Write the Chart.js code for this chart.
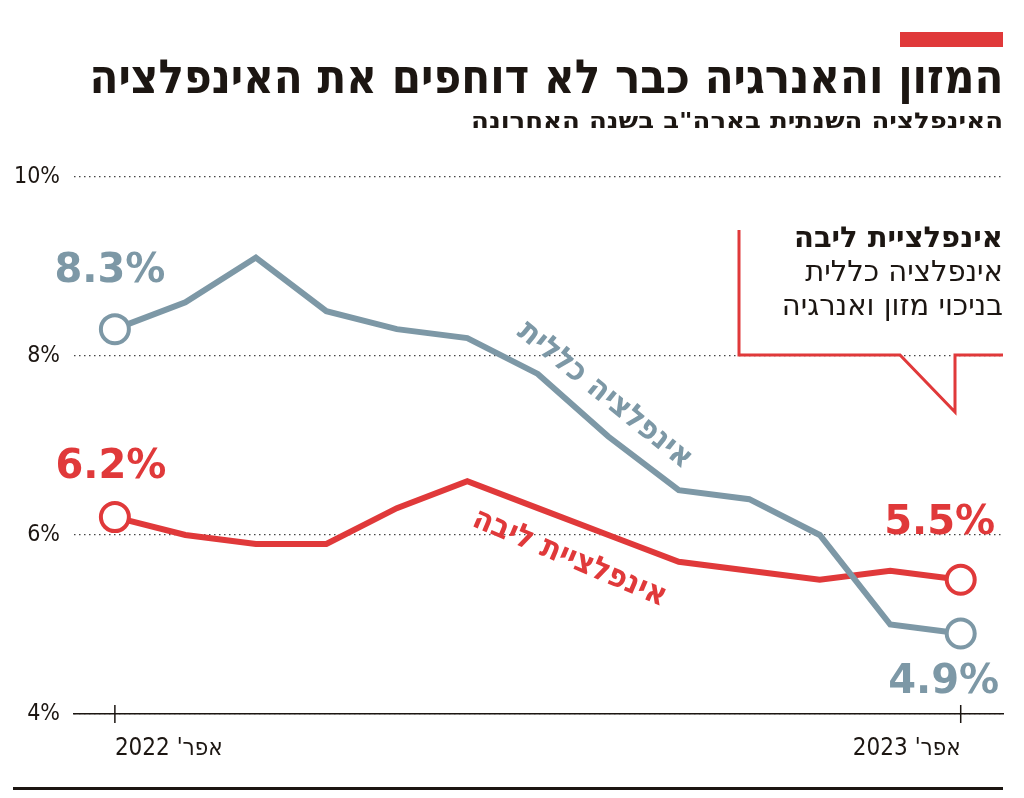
<!DOCTYPE html>
<html lang="he">
<head>
<meta charset="utf-8">
<script src="https://cdn.jsdelivr.net/npm/chart.js@4"></script>
<style>
  body { margin: 0; background: #fff; }
  #wrap { position: relative; width: 1024px; height: 798px; overflow: hidden; }
  canvas { position: absolute; left: 0; top: 0; }
  .txt { position: absolute; direction: rtl; text-align: right; color: #1c1612; white-space: nowrap; }
  #topbar { position: absolute; left: 900px; top: 32px; width: 103px; height: 15px; background: #e0393a; }
  #title { right: 21px; top: 52px; font: bold 47px "DejaVu Sans Condensed", sans-serif; line-height: 50px; transform-origin: right center; }
  #subtitle { right: 21px; top: 108px; font: bold 22px "DejaVu Sans Condensed", sans-serif; line-height: 26px; transform-origin: right center; }
  #note { right: 21px; top: 220px; font: 29px "DejaVu Sans", sans-serif; line-height: 34px; }
  #note b { font-weight: bold; }
  #rule { position: absolute; left: 13px; top: 787px; width: 990px; height: 3px; background: #1c1612; }
</style>
</head>
<body>
<div id="wrap">
  <canvas id="chart" width="1024" height="798" dir="rtl"></canvas>
  <div id="topbar"></div>
  <div class="txt" id="title">המזון והאנרגיה כבר לא דוחפים את האינפלציה</div>
  <div class="txt" id="subtitle">האינפלציה השנתית בארה"ב בשנה האחרונה</div>
  <div class="txt" id="note"><b>אינפלציית ליבה</b><br>אינפלציה כללית<br>בניכוי מזון ואנרגיה</div>
  <div id="rule"></div>
</div>
<script>
// נתונים: אפריל 2022 עד אפריל 2023
const months = [0, 1, 2, 3, 4, 5, 6, 7, 8, 9, 10, 11, 12];
const headline = [8.3, 8.6, 9.1, 8.5, 8.3, 8.2, 7.8, 7.1, 6.5, 6.4, 6.0, 5.0, 4.9];
const core = [6.2, 6.0, 5.9, 5.9, 6.3, 6.6, 6.3, 6.0, 5.7, 5.6, 5.5, 5.6, 5.5];
const xTickValues = [0, 12];
const xTickLabels = ["אפר' 2022", "אפר' 2023"];
const yTicks = [4, 6, 8, 10];

const GRAY = '#7d98a6';
const RED = '#e0393a';
const INK = '#1c1612';

// התאמת רוחב הכותרות
function fit(id, w) {
    const el = document.getElementById(id);
    const cur = el.getBoundingClientRect().width;
    el.style.transform = 'scaleX(' + (w / cur) + ')';
}
fit('title', 914);
fit('subtitle', 532);

function endRadius(arr) {
    return arr.map((v, i) => (i === 0 || i === arr.length - 1) ? 14 : 0);
}

const extras = {
    id: 'extras',
    afterDatasetsDraw(chart) {
        const ctx = chart.ctx;
        const x = chart.scales.x, y = chart.scales.y;
        ctx.save();

        // סימוני ציר
        ctx.strokeStyle = INK;
        ctx.lineWidth = 1.5;
        xTickValues.forEach(v => {
            const px = x.getPixelForValue(v);
            ctx.beginPath();
            ctx.moveTo(px, y.bottom - 9);
            ctx.lineTo(px, y.bottom + 9);
            ctx.stroke();
        });

        // תוויות ערכים
        ctx.font = 'bold 40px "DejaVu Sans", sans-serif';
        ctx.textAlign = 'center';
        ctx.textBaseline = 'middle';
        const marks = [
            [0, 0, -5, -58, GRAY],
            [1, 0, -4, -49, RED],
            [1, 12, -21, -56, RED],
            [0, 12, -17, 49, GRAY]
        ];
        marks.forEach(m => {
            const pt = chart.getDatasetMeta(m[0]).data[m[1]];
            const val = chart.data.datasets[m[0]].data[m[1]].y;
            ctx.fillStyle = m[4];
            ctx.fillText(val.toFixed(1) + '%', pt.x + m[2], pt.y + m[3]);
        });

        // שמות הקווים
        ctx.font = 'bold 32px "DejaVu Sans Condensed", sans-serif';
        ctx.fillStyle = GRAY;
        ctx.save();
        ctx.translate(x.getPixelForValue(6.95), y.getPixelForValue(7.56));
        ctx.rotate(39 * Math.PI / 180);
        ctx.fillText('אינפלציה כללית', 0, 0);
        ctx.restore();

        ctx.fillStyle = RED;
        ctx.save();
        ctx.translate(x.getPixelForValue(6.45), y.getPixelForValue(5.74));
        ctx.rotate(23 * Math.PI / 180);
        ctx.fillText('אינפלציית ליבה', 0, 0);
        ctx.restore();

        // מסגרת ההסבר
        ctx.strokeStyle = RED;
        ctx.lineWidth = 3;
        ctx.beginPath();
        ctx.moveTo(739, 230);
        ctx.lineTo(739, 355);
        ctx.lineTo(900, 355);
        ctx.lineTo(955, 412);
        ctx.lineTo(955, 355);
        ctx.lineTo(1003, 355);
        ctx.stroke();

        ctx.restore();
    }
};

new Chart(document.getElementById('chart'), {
    type: 'line',
    data: {
        datasets: [{
            label: 'אינפלציה כללית',
            data: months.map((m, i) => ({ x: m, y: headline[i] })),
            borderColor: GRAY,
            borderWidth: 6,
            pointRadius: endRadius(headline),
            pointBackgroundColor: '#fff',
            pointBorderColor: GRAY,
            pointBorderWidth: 4,
            tension: 0
        }, {
            label: 'אינפלציית ליבה',
            data: months.map((m, i) => ({ x: m, y: core[i] })),
            borderColor: RED,
            borderWidth: 6,
            pointRadius: endRadius(core),
            pointBackgroundColor: '#fff',
            pointBorderColor: RED,
            pointBorderWidth: 4,
            tension: 0
        }]
    },
    options: {
        responsive: false,
        animation: false,
        clip: false,
        layout: { padding: { top: 177, right: 21, left: 0, bottom: 0 } },
        plugins: { legend: { display: false }, tooltip: { enabled: false } },
        scales: {
            x: {
                type: 'linear',
                min: -0.58,
                max: 12.6,
                afterBuildTicks: s => { s.ticks = xTickValues.map(v => ({ value: v })); },
                afterFit: s => { s.height = 84; },
                grid: { display: false },
                border: { display: true, color: INK, width: 1.5 },
                ticks: {
                    callback: v => xTickLabels[xTickValues.indexOf(v)],
                    align: 'inner',
                    autoSkip: false,
                    maxRotation: 0,
                    padding: 12,
                    color: INK,
                    font: { family: 'DejaVu Sans Condensed', size: 24 }
                }
            },
            y: {
                min: 4,
                max: 10,
                afterBuildTicks: s => { s.ticks = yTicks.map(v => ({ value: v })); },
                afterFit: s => { s.width = 74; },
                grid: { color: '#444', lineWidth: 1.2, drawTicks: false },
                border: { display: false, dash: [1.5, 3.5] },
                ticks: {
                    callback: v => v + '%',
                    padding: 14,
                    color: INK,
                    font: { family: 'DejaVu Sans Condensed', size: 23 }
                }
            }
        }
    },
    plugins: [extras]
});
</script>
</body>
</html>
